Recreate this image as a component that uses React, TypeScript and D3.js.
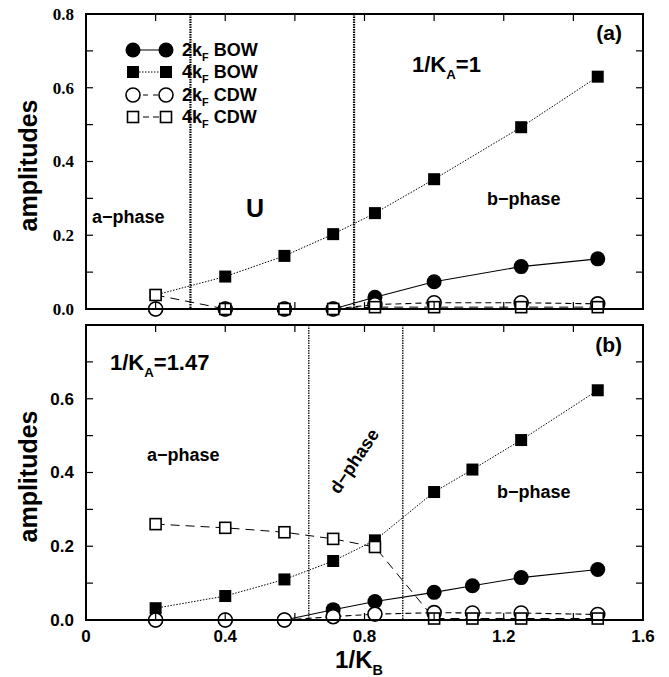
import React from "react";
import * as d3 from "d3";

// 1/K_B values
const xA = [0.2, 0.4, 0.57, 0.71, 0.83, 1.0, 1.25, 1.47];
const xB = [0.2, 0.4, 0.57, 0.71, 0.83, 1.0, 1.11, 1.25, 1.47];

// panel (a): 1/K_A = 1
const bow2A = [0, 0, 0, 0, 0.032, 0.074, 0.115, 0.136];
const bow4A = [0.038, 0.088, 0.144, 0.203, 0.26, 0.352, 0.493, 0.63];
const cdw2A = [0, 0, 0, 0, 0.012, 0.017, 0.017, 0.014];
const cdw4A = [0.038, 0, 0, 0, 0.005, 0.005, 0.005, 0.005];

// panel (b): 1/K_A = 1.47
const bow2B = [0, 0, 0, 0.028, 0.05, 0.075, 0.093, 0.115, 0.137];
const bow4B = [0.032, 0.065, 0.11, 0.16, 0.216, 0.347, 0.408, 0.488, 0.623];
const cdw2B = [0, 0, 0, 0.009, 0.016, 0.02, 0.019, 0.019, 0.015];
const cdw4B = [0.26, 0.25, 0.238, 0.22, 0.198, 0.004, 0.004, 0.004, 0.004];

const xTicks = [0, 0.4, 0.8, 1.2, 1.6];
const yTicksA = [0, 0.2, 0.4, 0.6, 0.8];
const yTicksB = [0, 0.2, 0.4, 0.6];
const boundsA = [0.3, 0.77];
const boundsB = [0.64, 0.91];

const SANS = "'Liberation Sans', Arial, sans-serif";
const SERIF = "'Liberation Serif', 'Times New Roman', serif";

const x = d3.scaleLinear().domain([0, 1.6]).range([86, 643]);

type Series = { key: string; ys: number[]; marker: string; dash: string; lw: number };

function Marker({ kind, cx, cy }: { kind: string; cx: number; cy: number }) {
  if (kind === "fcircle") return <circle cx={cx} cy={cy} r={7.5} fill="#000" />;
  if (kind === "ocircle")
    return <circle cx={cx} cy={cy} r={7} fill="#fff" stroke="#000" strokeWidth={1.6} />;
  if (kind === "fsquare") return <rect x={cx - 6} y={cy - 6} width={12} height={12} fill="#000" />;
  return <rect x={cx - 5.5} y={cy - 5.5} width={11} height={11} fill="#fff" stroke="#000" strokeWidth={1.6} />;
}

function Panel({ top, bottom, xs, series, yTicks, tickFont, bounds, boundWidth, showX, children }: any) {
  const y = d3.scaleLinear().domain([0, 0.8]).range([bottom, top]);
  const line = d3
    .line<number>()
    .x((_, i) => x(xs[i]))
    .y((v) => y(v));
  const minorY = d3.range(0, 0.81, 0.1);
  const minorX = d3.range(0, 1.61, 0.2);
  return (
    <g>
      {bounds.map((b: number) => (
        <line key={b} x1={x(b)} x2={x(b)} y1={top} y2={bottom} stroke="#000" strokeWidth={boundWidth} strokeDasharray="1.5,1" />
      ))}
      {series.map((s: Series) => (
        <path key={s.key} d={line(s.ys) || ""} fill="none" stroke="#000" strokeWidth={s.lw} strokeDasharray={s.dash} />
      ))}
      {series.map((s: Series) =>
        s.ys.map((v, i) => <Marker key={s.key + i} kind={s.marker} cx={x(xs[i])} cy={y(v)} />)
      )}
      <rect x={x(0)} y={top} width={x(1.6) - x(0)} height={bottom - top} fill="none" stroke="#000" strokeWidth={2} />
      {minorY.map((t) => (
        <g key={"yt" + t}>
          <line x1={x(0)} x2={x(0) + 7} y1={y(t)} y2={y(t)} stroke="#000" strokeWidth={1.2} />
          <line x1={x(1.6)} x2={x(1.6) - 7} y1={y(t)} y2={y(t)} stroke="#000" strokeWidth={1.2} />
        </g>
      ))}
      {minorX.map((t) => (
        <g key={"xt" + t}>
          <line x1={x(t)} x2={x(t)} y1={top} y2={top + 7} stroke="#000" strokeWidth={1.2} />
          <line x1={x(t)} x2={x(t)} y1={bottom} y2={bottom - 7} stroke="#000" strokeWidth={1.2} />
        </g>
      ))}
      {yTicks.map((t: number) => (
        <text key={"yl" + t} x={74} y={y(t)} dy="0.35em" textAnchor="end" fontFamily={tickFont} fontWeight="bold" fontSize={17}>
          {t.toFixed(1)}
        </text>
      ))}
      {showX &&
        xTicks.map((t) => (
          <text key={"xl" + t} x={x(t)} y={bottom + 22} textAnchor="middle" fontFamily={SANS} fontWeight="bold" fontSize={17}>
            {t === 0 ? "0" : t.toFixed(1)}
          </text>
        ))}
      <text
        transform={`translate(37,${(top + bottom) / 2 + 4}) rotate(-90)`}
        textAnchor="middle"
        fontFamily={SANS}
        fontWeight="bold"
        fontSize={25}
      >
        amplitudes
      </text>
      {children}
    </g>
  );
}

function Sub({ base, sub, rest, x: tx, y: ty, size, anchor }: any) {
  return (
    <text x={tx} y={ty} fontFamily={SANS} fontWeight="bold" fontSize={size} textAnchor={anchor || "start"}>
      {base}
      <tspan fontSize={size * 0.6} dy={size * 0.3}>{sub}</tspan>
      <tspan dy={-size * 0.3}>{rest}</tspan>
    </text>
  );
}

const legendItems = [
  { label: "2", name: " BOW", marker: "fcircle", dash: "none" },
  { label: "4", name: " BOW", marker: "fsquare", dash: "1.5,1.5" },
  { label: "2", name: " CDW", marker: "ocircle", dash: "5,5" },
  { label: "4", name: " CDW", marker: "osquare", dash: "6,4" },
];
const legendY = [50, 72, 95, 117];

export default function App() {
  const seriesA: Series[] = [
    { key: "b4", ys: bow4A, marker: "fsquare", dash: "1.5,1.5", lw: 1 },
    { key: "b2", ys: bow2A, marker: "fcircle", dash: "none", lw: 1.1 },
    { key: "c2", ys: cdw2A, marker: "ocircle", dash: "6,4", lw: 1.1 },
    { key: "c4", ys: cdw4A, marker: "osquare", dash: "9,6", lw: 1 },
  ];
  const seriesB: Series[] = [
    { key: "b4", ys: bow4B, marker: "fsquare", dash: "1.5,1.5", lw: 1 },
    { key: "b2", ys: bow2B, marker: "fcircle", dash: "none", lw: 1.1 },
    { key: "c2", ys: cdw2B, marker: "ocircle", dash: "6,4", lw: 1.1 },
    { key: "c4", ys: cdw4B, marker: "osquare", dash: "9,6", lw: 1 },
  ];
  return (
    <svg width={669} height={677} style={{ position: "absolute", left: 0, top: 0, background: "#fff" }}>
      <rect width={669} height={677} fill="#fff" />
      <Panel top={14} bottom={309} xs={xA} series={seriesA} yTicks={yTicksA} tickFont={SERIF} bounds={boundsA} boundWidth={2.2} showX={false}>
        {legendItems.map((it, i) => (
          <g key={"lg" + i}>
            <line x1={133} x2={166} y1={legendY[i]} y2={legendY[i]} stroke="#000" strokeWidth={1} strokeDasharray={it.dash} />
            <Marker kind={it.marker} cx={133} cy={legendY[i]} />
            <Marker kind={it.marker} cx={166} cy={legendY[i]} />
            <Sub base={it.label + "k"} sub="F" rest={it.name} x={182} y={legendY[i] + 6} size={18} />
          </g>
        ))}
        <text x={622} y={40} textAnchor="end" fontFamily={SANS} fontWeight="bold" fontSize={21}>(a)</text>
        <Sub base="1/K" sub="A" rest="=1" x={412} y={72} size={22} />
        <text x={92} y={223} fontFamily={SANS} fontWeight="bold" fontSize={18}>a−phase</text>
        <text x={255} y={217} textAnchor="middle" fontFamily={SANS} fontWeight="bold" fontSize={25}>U</text>
        <text x={487} y={205} fontFamily={SANS} fontWeight="bold" fontSize={18}>b−phase</text>
      </Panel>
      <Panel top={325} bottom={620} xs={xB} series={seriesB} yTicks={yTicksB} tickFont={SANS} bounds={boundsB} boundWidth={1.3} showX={true}>
        <text x={622} y={352} textAnchor="end" fontFamily={SANS} fontWeight="bold" fontSize={21}>(b)</text>
        <Sub base="1/K" sub="A" rest="=1.47" x={110} y={370} size={22} />
        <text x={147} y={461} fontFamily={SANS} fontWeight="bold" fontSize={18}>a−phase</text>
        <text transform="translate(354,461) rotate(-56)" textAnchor="middle" dy="0.35em" fontFamily={SANS} fontWeight="bold" fontSize={18}>d−phase</text>
        <text x={497} y={498} fontFamily={SANS} fontWeight="bold" fontSize={18}>b−phase</text>
      </Panel>
      <Sub base="1/K" sub="B" rest="" x={359} y={668} size={24} anchor="middle" />
    </svg>
  );
}
